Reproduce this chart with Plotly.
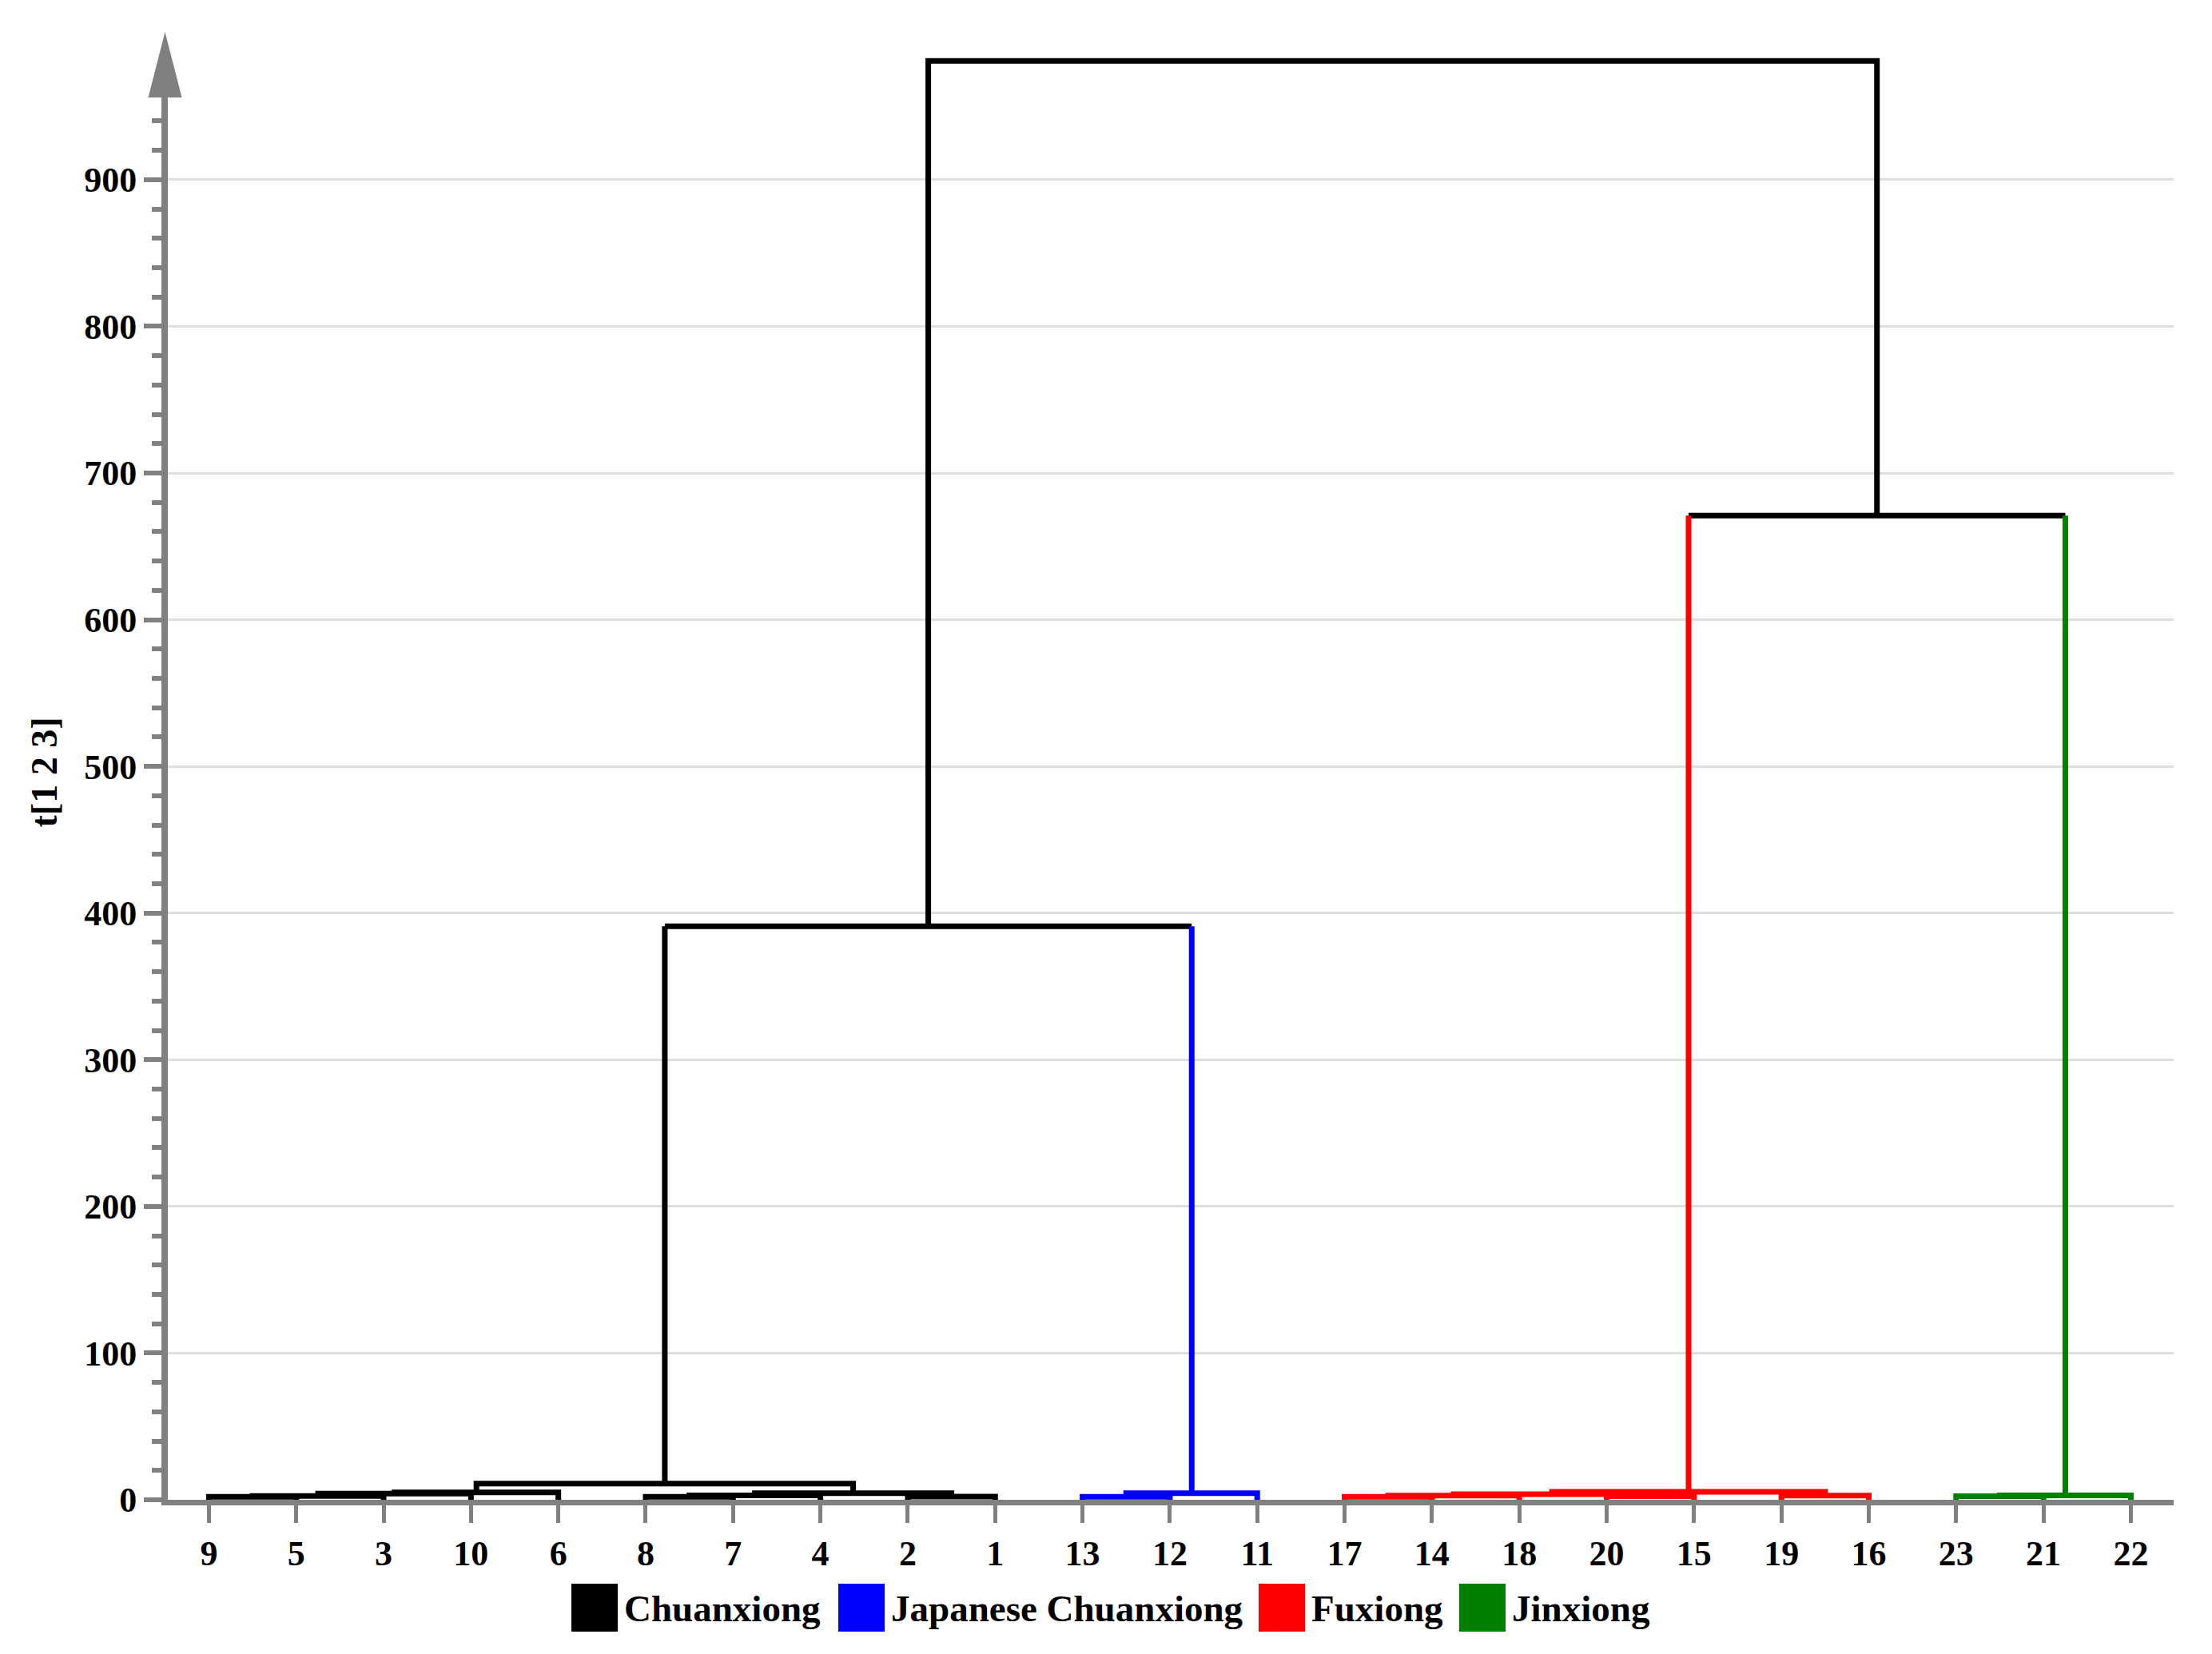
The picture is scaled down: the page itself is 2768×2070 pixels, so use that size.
import plotly.graph_objects as go

# leaves in the order they sit along the x axis
leaf_labels = ["9", "5", "3", "10", "6", "8", "7", "4", "2", "1",
               "13", "12", "11",
               "17", "14", "18", "20", "15", "19", "16",
               "23", "21", "22"]
leaf_groups = ["Chuanxiong", "Chuanxiong", "Chuanxiong", "Chuanxiong", "Chuanxiong",
               "Chuanxiong", "Chuanxiong", "Chuanxiong", "Chuanxiong", "Chuanxiong",
               "Japanese Chuanxiong", "Japanese Chuanxiong", "Japanese Chuanxiong",
               "Fuxiong", "Fuxiong", "Fuxiong", "Fuxiong", "Fuxiong", "Fuxiong", "Fuxiong",
               "Jinxiong", "Jinxiong", "Jinxiong"]

# merges, bottom up (heights)
node_names = ["a1", "a2", "a3", "a4", "b1", "b2", "b3", "b4", "c1",
              "d1", "d2",
              "e1", "e2", "e3", "e4", "e5", "e6",
              "f1", "f2",
              "g1", "h1", "root"]
left_child = ["9", "a1", "a2", "a3", "8", "b1", "2", "b2", "a4",
              "13", "d1",
              "17", "e1", "20", "e2", "19", "e4",
              "23", "f1",
              "c1", "e6", "g1"]
right_child = ["5", "3", "10", "6", "7", "4", "1", "b3", "b4",
               "12", "11",
               "14", "18", "15", "e3", "16", "e5",
               "21", "22",
               "d2", "f2", "h1"]
merge_height = [2.0, 2.6, 4.2, 5.0, 2.0, 3.0, 2.2, 4.5, 11.0,
                2.0, 4.5,
                2.0, 2.8, 2.5, 3.8, 2.8, 5.5,
                2.5, 3.0,
                391, 671, 981]
node_groups = ["Chuanxiong"] * 9 + ["Japanese Chuanxiong"] * 2 + ["Fuxiong"] * 6 \
    + ["Jinxiong"] * 2 + [None, None, None]

group_names = ["Chuanxiong", "Japanese Chuanxiong", "Fuxiong", "Jinxiong"]
group_colors = ["#000000", "#0000ff", "#ff0000", "#008000"]

y_tick_vals = [0, 100, 200, 300, 400, 500, 600, 700, 800, 900]

FONT = "Liberation Serif"
AXIS_GREY = "#808080"

color_of_group = dict(zip(group_names, group_colors))

# positions of every node: leaves at 0..n-1, merges at the midpoint of their children
pos = {lab: i for i, lab in enumerate(leaf_labels)}
hgt = {lab: 0.0 for lab in leaf_labels}
col = {lab: color_of_group[g] for lab, g in zip(leaf_labels, leaf_groups)}

segments = {c: ([], []) for c in group_colors}


def add_seg(c, xs, ys):
    segments[c][0].extend(xs + [None])
    segments[c][1].extend(ys + [None])


for name, l, r, h, g in zip(node_names, left_child, right_child, merge_height, node_groups):
    pos[name] = (pos[l] + pos[r]) / 2
    hgt[name] = h
    col[name] = color_of_group[g] if g else "#000000"
    c = col[name]
    if col[l] == c and col[r] == c:
        add_seg(c, [pos[l], pos[l], pos[r], pos[r]], [hgt[l], h, h, hgt[r]])
    else:
        add_seg(col[l], [pos[l], pos[l]], [hgt[l], h])
        add_seg(c, [pos[l], pos[r]], [h, h])
        add_seg(col[r], [pos[r], pos[r]], [hgt[r], h])

fig = go.Figure()
for gname, c in zip(group_names, group_colors):
    xs, ys = segments[c]
    if not xs:
        continue
    fig.add_trace(go.Scatter(
        x=xs, y=ys, mode="lines", name=gname,
        line=dict(color=c, width=7),
        showlegend=False, hoverinfo="skip",
    ))

# the page puts the figure 8px in from the top/left, so work in page pixels
OFF = 8
W, H = 2768 - 2 * OFF, 2070 - 2 * OFF
PLOT_L, PLOT_R, PLOT_T, PLOT_B = 210, 2720, 56, 1877   # page pixels
ML, MT = PLOT_L - OFF, PLOT_T - OFF
MR, MB = OFF + W - PLOT_R, OFF + H - PLOT_B
PW, PH = PLOT_R - PLOT_L, PLOT_B - PLOT_T


def px_x(p):
    return (p - PLOT_L) / PW


def px_y(p):
    return (PLOT_B - p) / PH


# arrow head on top of the y axis
ax_c = 206.5
fig.add_shape(
    type="path", xref="paper", yref="paper",
    path=f"M {px_x(ax_c - 21)},{px_y(122)} L {px_x(ax_c)},{px_y(40)} L {px_x(ax_c + 21)},{px_y(122)} Z",
    fillcolor=AXIS_GREY, line=dict(width=0), layer="above",
)

# legend: coloured boxes followed by the group names
box_left = [715, 1049, 1575, 1826]
for gname, c, bx in zip(group_names, group_colors, box_left):
    fig.add_shape(
        type="rect", xref="paper", yref="paper",
        x0=px_x(bx), x1=px_x(bx + 58), y0=px_y(2042), y1=px_y(1982),
        fillcolor=c, line=dict(width=0),
    )
    fig.add_annotation(
        x=px_x(bx + 64), y=px_y(2013), xref="paper", yref="paper",
        xanchor="left", yanchor="middle", showarrow=False,
        text=gname, font=dict(family=FONT, size=47, color="black", weight="bold"),
    )

tick_font = dict(family=FONT, size=44, color="black", weight="bold")

fig.update_layout(
    width=W, height=H,
    margin=dict(l=ML, r=MR, t=MT, b=MB, pad=0),
    plot_bgcolor="white", paper_bgcolor="white",
    xaxis=dict(
        range=[-0.47, 22.49],
        tickmode="array", tickvals=list(range(len(leaf_labels))), ticktext=leaf_labels,
        showline=True, linewidth=7, linecolor=AXIS_GREY,
        ticks="outside", ticklen=22, tickwidth=5, tickcolor=AXIS_GREY,
        showgrid=False, zeroline=False, tickfont=tick_font,
        layer="below traces",
    ),
    yaxis=dict(
        range=[0, 992],
        tickmode="array", tickvals=y_tick_vals,
        showline=True, linewidth=8, linecolor=AXIS_GREY,
        ticks="outside", ticklen=22, tickwidth=6, tickcolor=AXIS_GREY,
        minor=dict(
            tickmode="array",
            tickvals=[v for v in range(20, 960, 20) if v % 100],
            ticks="outside", ticklen=12, tickwidth=6, tickcolor=AXIS_GREY, showgrid=False,
        ),
        showgrid=True, gridcolor="#dedede", gridwidth=3, zeroline=False,
        tickfont=tick_font,
        title=dict(text="t[1 2 3]", font=dict(family=FONT, size=46, color="black", weight="bold"),
                   standoff=22),
        layer="below traces",
    ),
)

fig.write_html("out.html")
